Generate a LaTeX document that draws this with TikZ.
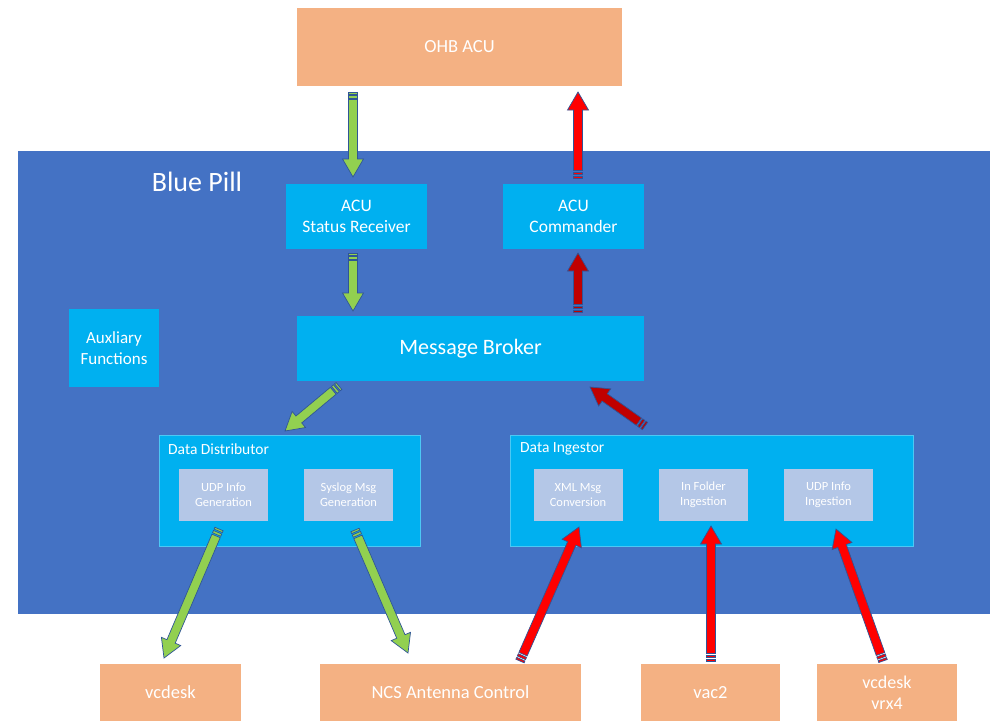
\documentclass[tikz,border=0pt]{standalone}
\usepackage{fontspec}
\setmainfont{Carlito}
\usetikzlibrary{calc}
\definecolor{salmon}{HTML}{F4B183}
\definecolor{pillblue}{HTML}{4472C4}
\definecolor{lightblue}{HTML}{00B0F0}
\definecolor{greyblue}{HTML}{B4C7E7}
\definecolor{agreen}{HTML}{92D050}
\definecolor{ared}{HTML}{FF0000}
\definecolor{adred}{HTML}{C00000}
\definecolor{aline}{HTML}{2F5597}
\tikzset{
  ext/.style={fill=salmon, text=white, align=center, inner sep=0pt, font=\fontsize{18.5}{22}\selectfont},
  lbox/.style={fill=lightblue, text=white, align=center, inner sep=0pt, font=\fontsize{17.5}{21}\selectfont},
  gbox/.style={fill=greyblue, text=white, align=center, inner sep=0pt, minimum width=89pt, minimum height=52pt, font=\fontsize{12.5}{15}\selectfont},
  grp/.style={fill=lightblue, draw=lightblue!70!white, line width=0.6pt, inner sep=0pt},
  ttl/.style={text=white, anchor=west, inner sep=0pt, font=\fontsize{15.5}{18}\selectfont},
  arrline/.style={draw=aline, line width=0.7pt, line join=miter},
}
\newcommand\blockarr[3]{%
  \path (#2); \pgfgetlastxy{\bax}{\bay}%
  \path (#3); \pgfgetlastxy{\bbx}{\bby}%
  \pgfmathsetmacro\bang{atan2(\bby-\bay,\bbx-\bax)}%
  \pgfmathsetmacro\blen{veclen(\bbx-\bax,\bby-\bay)}%
  \begin{scope}[shift={(\bax,\bay)},rotate=\bang]
    \path[arrline, fill=#1] (7.5pt,-4.5pt) -- ({\blen pt-18pt},-4.5pt) -- ({\blen pt-18pt},-10.5pt)
      -- ({\blen pt},0pt) -- ({\blen pt-18pt},10.5pt) -- ({\blen pt-18pt},4.5pt) -- (7.5pt,4.5pt) -- cycle;
    \path[arrline, fill=#1] (0pt,-4.5pt) rectangle (2pt,4.5pt);
    \path[arrline, fill=#1] (3.5pt,-4.5pt) rectangle (6pt,4.5pt);
  \end{scope}%
}
\begin{document}
\begin{tikzpicture}[x=1pt,y=-1pt]
\useasboundingbox (0,0) rectangle (990,721);
\fill[white] (0,0) rectangle (990,721);
% external
\node[ext, minimum width=325pt, minimum height=78pt] (ohb) at (459.5,47) {OHB ACU};
% blue pill
\node[fill=pillblue, minimum width=972pt, minimum height=463pt, inner sep=0pt] (pill) at (504,382.5) {};
\node[text=white, inner sep=0pt, font=\fontsize{28}{32}\selectfont] (pilltitle) at (197,182) {Blue Pill};
\node[lbox, minimum width=141pt, minimum height=65pt] (rcv) at (356.5,216.5) {ACU\\Status Receiver};
\node[lbox, minimum width=141pt, minimum height=65pt] (cmd) at (573.5,216.5) {ACU\\Commander};
\node[lbox, minimum width=347pt, minimum height=65pt, font=\fontsize{22}{26}\selectfont] (brk) at (470.5,348.5) {Message Broker};
\node[lbox, minimum width=90pt, minimum height=78pt, font=\fontsize{17}{21}\selectfont] (aux) at (114,348) {Auxliary\\Functions};
% data distributor
\node[grp, minimum width=261pt, minimum height=111pt] (dist) at (289.5,490.5) {};
\node[ttl] (distt) at (168,449) {Data Distributor};
\node[gbox] (udpg) at (223.5,495) {UDP Info\\Generation};
\node[gbox] (sysg) at (348.5,495) {Syslog Msg\\Generation};
% data ingestor
\node[grp, minimum width=403pt, minimum height=111pt] (ing) at (711.5,490.5) {};
\node[ttl] (ingt) at (520,449) {Data Ingestor};
\node[gbox] (xml) at (578,495) {XML Msg\\Conversion};
\node[gbox] (fold) at (703.5,495) {In Folder\\Ingestion};
\node[gbox] (udpi) at (828.5,495) {UDP Info\\Ingestion};
% bottom externals
\node[ext, minimum width=141pt, minimum height=57pt] (vcd) at (170.5,692.5) {vcdesk};
\node[ext, minimum width=261pt, minimum height=57pt] (ncs) at (450.5,692.5) {NCS Antenna Control};
\node[ext, minimum width=139pt, minimum height=57pt] (vac) at (710.5,692.5) {vac2};
\node[ext, minimum width=140pt, minimum height=57pt, font=\fontsize{18}{21}\selectfont] (vrx) at (887,692.5) {vcdesk\\vrx4};
% arrow end points
\coordinate (g1a) at (353,92);  \coordinate (g1b) at (353,177);
\coordinate (r1a) at (578,178); \coordinate (r1b) at (578,92);
\coordinate (g2a) at (353,253); \coordinate (g2b) at (353,311);
\coordinate (r2a) at (578,312); \coordinate (r2b) at (578,253);
\coordinate (g3a) at (339,386); \coordinate (g3b) at (285,431);
\coordinate (r3a) at (645,426); \coordinate (r3b) at (590,387);
\coordinate (g4a) at (219,529); \coordinate (g4b) at (164,658);
\coordinate (g5a) at (355,530); \coordinate (g5b) at (408,653);
\coordinate (r6a) at (520,661); \coordinate (r6b) at (579,527);
\coordinate (r7a) at (711,661); \coordinate (r7b) at (711,526);
\coordinate (r8a) at (883,661); \coordinate (r8b) at (836,529);
\blockarr{agreen}{g1a}{g1b}
\blockarr{ared}{r1a}{r1b}
\blockarr{agreen}{g2a}{g2b}
\blockarr{adred}{r2a}{r2b}
\blockarr{agreen}{g3a}{g3b}
\blockarr{adred}{r3a}{r3b}
\blockarr{agreen}{g4a}{g4b}
\blockarr{agreen}{g5a}{g5b}
\blockarr{ared}{r6a}{r6b}
\blockarr{ared}{r7a}{r7b}
\blockarr{ared}{r8a}{r8b}
\end{tikzpicture}
\end{document}
